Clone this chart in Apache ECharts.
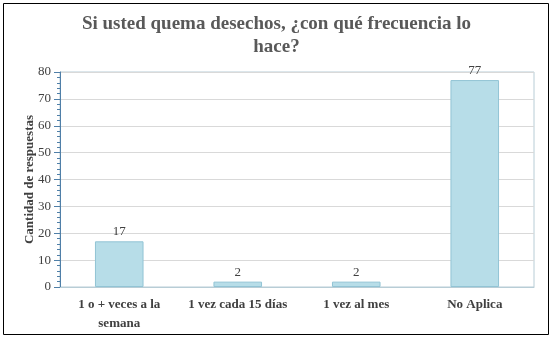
<!DOCTYPE html>
<html><head><meta charset="utf-8">
<script src="https://cdn.jsdelivr.net/npm/echarts@6/dist/echarts.min.js"></script>
<style>html,body{margin:0;padding:0;background:#fff}#c{width:553px;height:338px}</style>
</head><body><div id="c"></div>
<script>
const categories = ['1 o + veces a la\nsemana', '1 vez cada 15 días', '1 vez al mes', 'No Aplica'];
const values = [17, 2, 2, 77];
const titleText = 'Si usted quema desechos, ¿con qué frecuencia lo\nhace?';
const yAxisName = 'Cantidad de respuestas';

const chart = echarts.init(document.getElementById('c'), null, {renderer: 'canvas'});
const serif = '"Liberation Serif", "Times New Roman", serif';
chart.setOption({
  animation: false,
  graphic: [{type: 'rect', shape: {x: 3.5, y: 3.5, width: 545, height: 331}, style: {fill: 'none', stroke: '#000', lineWidth: 1}}],
  title: {text: titleText, left: 'center', top: 8,
    textStyle: {fontFamily: serif, fontSize: 19, fontWeight: 'bold', color: '#595959', lineHeight: 23}},
  grid: {left: 60, right: 19, top: 72, bottom: 51, show: true, borderColor: '#b8cdd6', borderWidth: 1},
  xAxis: {type: 'category', data: categories,
    axisLine: {show: true, lineStyle: {color: '#b8cdd6'}}, axisTick: {show: false},
    axisLabel: {fontFamily: serif, fontSize: 13, fontWeight: 'bold', color: '#404040', margin: 8, lineHeight: 19, interval: 0}},
  yAxis: {type: 'value', min: 0, max: 80, interval: 10,
    name: yAxisName, nameLocation: 'middle', nameGap: 24, nameMoveOverlap: false,
    nameTextStyle: {fontFamily: serif, fontSize: 13, fontWeight: 'bold', color: '#404040'},
    axisLine: {show: true, lineStyle: {color: '#4f7fa8'}},
    axisTick: {show: true, length: 6, inside: false, lineStyle: {color: '#4f7fa8'}},
    minorTick: {show: true, splitNumber: 5, length: 3, lineStyle: {color: '#4f7fa8'}},
    axisLabel: {fontFamily: serif, fontSize: 13, color: '#404040', margin: 9},
    splitLine: {show: true, lineStyle: {color: '#d9d9d9'}}},
  series: [{type: 'bar', data: values, barWidth: '41%',
    itemStyle: {color: '#b7dde8', borderColor: '#92c4d5', borderWidth: 1},
    label: {show: true, position: 'top', fontFamily: serif, fontSize: 13, color: '#404040', distance: 3}}]
});
</script></body></html>
